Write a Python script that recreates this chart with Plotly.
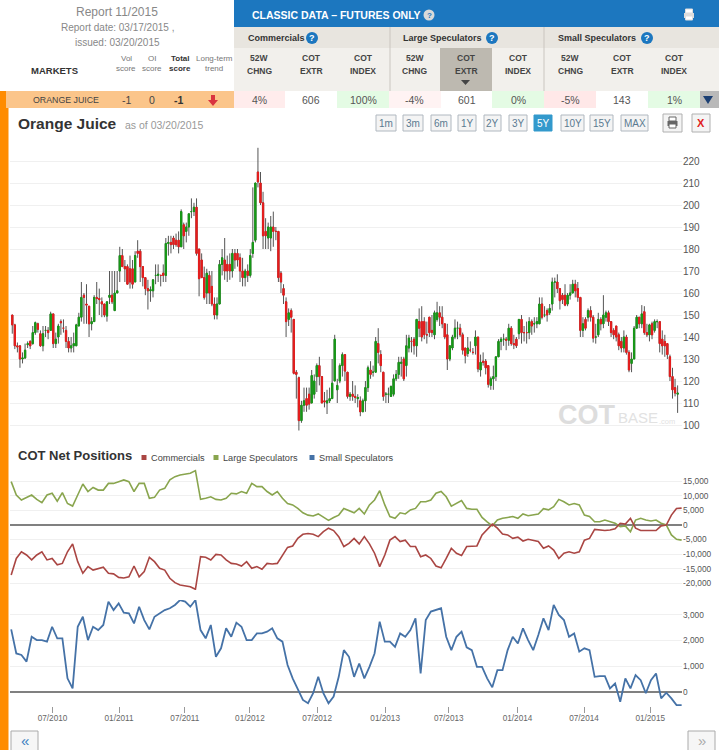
import pandas as pd
import plotly.graph_objects as go

opens = [150,145.5,136,136,130,130.5,136.5,138,137,142,
 146,141.5,136,143,143,143,150.5,137,140,147,
 144,143,138,135,136,136,145,149,159,155,
 154,146,147,158,157.5,156,155,149.5,158,159,
 152,160,170,177,172,172,171,171,165,179,
 179,172,167,162,161,161,168,168,168,169,
 168,182.5,183,185,184,184,181,191,188,190,
 197,197,199,180,175,167,160,168,163,155,
 150,155,173,175,173,173,170,178,178,176,
 170,167,170,168,178,184,215,210,201,188,
 185,185,190,188,188,169,162,156,148,152,
 148,124,121.5,102,109,112,114,110,114,122,
 127,122,111,110,111,112,120,116,120,127,
 132,124,113,114,113,112,111,106,111,117,
 125,124,124,137,132,124,114,114,113,114,
 121,123,128,130,127,135,138,139,136,147,
 147,147,141,149,143,141,148,151,149,146,
 141,130,135,140,144,144,141,135,132.5,134,
 133,136,140,125,129,129,127,118,121,122,
 131,138,139,139,138.5,144,137,139,141.5,148,
 142,142,142,147,146,146,146,155,150,152,
 151,155,165,165,162,159,159,155,159,160,
 164,162,158,143,148,149,152,149,140,141,
 148,146,149,151,147,143,145,141,138,135,
 140,133,128,130,144,149,146,151.5,142,141,
 146,143,147,147,139,138,137,131,122,117,114]
highs = [150,146,137.5,136,133,137,138,138.5,145,147,
 146.5,143,145,145,144.5,151.5,150.5,142,146,148,
 148,145,140,140,142,146,151,165,160,164,
 154,149,159,165,162,158,155,156,170,170,
 170,170,181,180,175,173,177,175,179,184,
 180,172,167,166,163,166,173,173,168,173,
 185,186,186,186,187,188,198,192,192,196,
 203,201,203,180,178,172,171,170,170,158,
 158,175,180,185,177,178,180,180,180,178,
 176,171,173,180,208,210,226,215,206,194,
 192,195,197,190,188,170,164,158,153,153,
 148,125,122,111,117,117,117,125,123,128,
 131,122,115,116,117,130,141,121,128,133,
 132,124,115,120,118,114,113,112,120,127,
 129,127,140,144,134,124,115,117,118,123,
 125,131,131,131,141,141,140,140,148,153,
 154,149,147,149,150,152,156,154,154,146,
 146,136,141,148,147,146,142,135,140,138,
 135,143,140,132,133,130,127,122,127,131,
 139,140,141.5,140,146,145,141,140,148,150,
 145,147,149,148,149,149,158,158,154,153,
 155,167,167,168.5,162,160,164,160,164,166,
 166,165,158,149,149,153,154,150,146,151,
 149,159,152,152,147,144,145,142,140,143,
 141,134,133,145,150,149,154.5,154,146,146,
 147,148,148,147,143,141,137,132,126,121,118]
lows = [141.5,134.5,133,126,128,130,135,134.5,136.5,141,
 142,135.5,133.5,140,139,143,135,135,137,141,
 142,135,133,133,133,136,145,147,146,146,
 140,143,147,155,150,149,149,147,155,155,
 152,160,165,172,165,164,162,162,165,176,
 165,163,159,152.5,156,158,164,165,163,165,
 165,177,178,180,181,178,181,180,183,186,
 194,195,177,158.5,167,157,155,155,154,148,
 148,155,168,166,165,166,167,171,172,165,
 163,163,165,167,176,183,208,200,180,180,
 180,179,181,184,165,160,155,140,145,142,
 123,112,97.5,101,106,106,107,110,112,115,
 118,110,108,105,110,112,120,110,119,122,
 120,112,111,111,110,108,104,106,106,115,
 121,122,124,128,124,111,110,110,113,113,
 120,121,122,120,122,133,133,132,131,140,
 138,139,137,140,140,139,147,145,144,139,
 125,129,134,139,139,140,132,128,131,133,
 132,132,124,122,127,123,117,116,116,120,
 131,134,136,134,136,136,134.5,135,139,137,
 138,137,139,141,142,144,146,148,149,147,
 150,152,158,160,152.5,155,154,154,157,160,
 158,156,140,140,143,147,147,137.5,137,140,
 143,144,147,145,140,139,138,134,133,133,
 132,124,124,130,144,144,144,141,140,138,
 139,142,144,133,132,131,130,120,112,113,105.5]
closes = [145.5,136,135.5,130,130.5,134,137,136,142,146.5,
 143.5,136,141.5,143,142,150.5,137,139,145,146.5,
 144,138,135,136,137,145.5,149,158,158,154.5,
 146,147,158,157.5,157,155,150,156,159,156,
 160,161,177,172,171,164,165,164,177,178,
 172,167,162,161,161.5,166,168,168.5,168,168,
 182.5,183,182,182,182,181,197,186,190,196,
 197,199,178,166.5,167,158,169,160,155,150,
 155,173,176,170,170,170,178,175,175,170,
 167,170,168,177,183,210,210.5,201,186,186,
 190,190,188,188,167,165,159,147,151,149,
 123.5,123,102,109,111,109,109.5,122.5,120,127,
 122,110,110.5,111,112,119,139,118,127,132,
 124.5,113,114,113,112.5,112.5,106,111,117,126,
 123,124,138,133,127,113,114,114,117.5,121,
 123,128.5,128.5,121,136,139.5,138,136,148,144,
 140,141,141,142,142,151,151,149,146,140,
 130,136,140,144,144,141,134,131.5,135,134,
 133,140,125.5,128.5,128.5,126,118.5,121,122,131,
 138,139,139,138.5,144,137,136.5,136,148,142,
 142,142,147,145,146,147,155,149,150,150,
 153,165,165,162,156.5,157,154.5,159,160,164,
 161,158,143,146,144,152,149,139.5,140,148,
 146,150,151,147,142,141,140,136,135,140,
 133,125,130,144,149,146,150.5,142,141,145.5,
 141,147,147,137,136,136,132,122,116,114.5,114.5]

large_specs = [14900,10300,8600,9500,10300,8800,7700,10300,10900,8200,
 11100,7400,6500,10300,14100,11500,12900,12000,12000,14300,
 14300,14900,15500,14900,11500,14300,14300,9200,9500,12000,
 12600,15500,16600,17200,17400,17800,18700,8800,9200,9700,
 8800,8600,9200,10900,10700,11500,10900,14300,13200,13200,
 11500,10300,11500,9200,7400,6900,5700,4200,3400,3100,
 3800,2600,1600,2600,3400,5700,4900,4200,5700,3800,
 6900,8600,11800,6900,2900,2300,4200,3800,5200,5700,
 8000,8000,8600,10900,11500,9700,6500,7400,8400,5700,
 5400,5400,2600,1100,-300,1700,2300,2600,2900,2300,
 3800,3200,3400,3800,5600,5200,6300,8800,8000,6900,
 7400,6900,3400,2900,1100,1100,1700,1100,600,-600,
 -300,-2300,1700,2300,1700,1400,1700,600,0,-3400,-4900,-5200]
commercials = [-17200,-11500,-9200,-10300,-12000,-10300,-9200,-12000,-11500,-13700,
 -13200,-9200,-6500,-12600,-16600,-14300,-15500,-14900,-14500,-16600,
 -16800,-18000,-18200,-17800,-14100,-17800,-16000,-11100,-12600,-14900,
 -15500,-18300,-19800,-20600,-20800,-21200,-22100,-10900,-11100,-12000,
 -10100,-10300,-12000,-13200,-13400,-14100,-12600,-14900,-14300,-15200,
 -13200,-13400,-13200,-10300,-7700,-7200,-4600,-3200,-2900,-3200,
 -4000,-2300,-1100,-1900,-4000,-7400,-6300,-4600,-6500,-4000,
 -6500,-9700,-14300,-10300,-5200,-4000,-5700,-5200,-7400,-7400,
 -10900,-10300,-11500,-14100,-14700,-11500,-8000,-9700,-10500,-7400,
 -7200,-7200,-3400,-1700,300,-1100,-3100,-3400,-4600,-4200,
 -5500,-4900,-5200,-5700,-8000,-7200,-8600,-11500,-9700,-9200,
 -9700,-9200,-5200,-4600,-1500,-1700,-1900,-1700,-1300,600,
 300,2300,-1100,-1900,-1900,-1700,-1900,-300,0,3400,5700,5800]
small_specs = [2430,1490,1430,1170,2140,2010,2010,1950,2530,2080,
 2080,520,130,2530,2920,2010,2530,2400,2600,3510,
 3180,3440,3080,3050,2660,3310,2790,2430,2920,3050,
 3180,3250,3380,3570,3510,3310,3570,2400,2080,2600,
 1360,1690,2470,2140,2690,2530,2010,2010,2270,2270,
 2340,2470,2080,1950,1040,520,130,-320,-450,-60,
 580,-60,-450,-190,580,1620,1360,580,1100,520,
 970,1490,2730,1950,1950,1750,2270,2140,2400,2860,
 710,2790,3120,3180,3250,2140,1620,2140,2340,1730,
 1620,970,970,520,170,840,840,1620,2140,1880,
 2470,2010,1620,2210,2860,2400,3380,2990,2790,2140,
 2270,1560,1690,1620,580,610,610,130,320,-390,
 520,130,650,450,-60,450,710,-260,-40,-260,-520,-520]

date_labels = ["07/2010","01/2011","07/2011","01/2012","07/2012","01/2013","07/2013","01/2014","07/2014","01/2015"]
date_ticks = ["2010-07-11","2011-01-09","2011-07-08","2012-01-02","2012-07-04","2013-01-06","2013-06-29","2014-01-03","2014-07-04","2015-01-01"]
price_ticks = [100,110,120,130,140,150,160,170,180,190,200,210,220]
net_ticks = [-20000,-15000,-10000,-5000,0,5000,10000,15000]
net_labels = ["-20,000","-15,000","-10,000","-5,000","0","5,000","10,000","15,000"]
small_ticks = [0,1000,2000,3000]
small_labels = ["0","1,000","2,000","3,000"]

candle_dates = pd.date_range("2010-03-23", periods=len(closes), freq="7D")
cot_dates = pd.date_range("2010-03-20", periods=len(small_specs), freq="14D")
body_high = [max(a, b) for a, b in zip(opens, closes)]
body_low = [min(a, b) for a, b in zip(opens, closes)]

W, H = 719, 750
FONT = "Liberation Sans"
def fx(x): return x / W
def fy(y): return 1 - y / H

fig = go.Figure()
fig.add_trace(go.Candlestick(x=candle_dates, open=opens, high=highs, low=lows, close=closes, yaxis="y", whiskerwidth=0,
    increasing=dict(line=dict(color="#555555", width=1), fillcolor="#555555"),
    decreasing=dict(line=dict(color="#555555", width=1), fillcolor="#555555"), showlegend=False, name="Orange Juice"))
fig.add_trace(go.Candlestick(x=candle_dates, open=opens, high=body_high, low=body_low, close=closes, yaxis="y", whiskerwidth=0,
    increasing=dict(line=dict(color="#169a16", width=1), fillcolor="#169a16"),
    decreasing=dict(line=dict(color="#e81c1c", width=1), fillcolor="#e81c1c"), showlegend=False, name="Body"))
fig.add_trace(go.Scatter(x=cot_dates, y=large_specs, yaxis="y2", mode="lines", line=dict(color="#89a54e", width=1.6), name="Large Speculators", showlegend=False))
fig.add_trace(go.Scatter(x=cot_dates, y=commercials, yaxis="y2", mode="lines", line=dict(color="#aa4643", width=1.6), name="Commercials", showlegend=False))
fig.add_trace(go.Scatter(x=cot_dates, y=small_specs, yaxis="y3", mode="lines", line=dict(color="#4572a7", width=1.8), name="Small Speculators", showlegend=False))

shapes, annots = [], []
def rect(x0, y0, x1, y1, fill, line=None, lw=1):
    shapes.append(dict(type="rect", xref="paper", yref="paper", x0=fx(x0), x1=fx(x1), y0=fy(y0), y1=fy(y1),
                       fillcolor=fill, line=dict(color=line or fill, width=lw if line else 0), layer="below"))
def poly(pts, fill):
    path = "M " + " L ".join(f"{fx(a):.5f},{fy(b):.5f}" for a, b in pts) + " Z"
    shapes.append(dict(type="path", xref="paper", yref="paper", path=path, fillcolor=fill, line=dict(width=0), layer="above"))
def text(x, y, s, size=10, color="#555555", bold=False, anchor="center", family=FONT):
    if bold: s = f"<b>{s}</b>"
    annots.append(dict(xref="paper", yref="paper", x=fx(x), y=fy(y), text=s, showarrow=False, xanchor=anchor, yanchor="middle",
                       font=dict(size=size, color=color, family=family), borderpad=0, align="center"))
def circle(cx, cy, r, fill):
    shapes.append(dict(type="circle", xref="paper", yref="paper", x0=fx(cx - r), x1=fx(cx + r), y0=fy(cy - r), y1=fy(cy + r),
                       fillcolor=fill, line=dict(width=0), layer="below"))
def printer(cx, cy, col="#666666"):
    rect(cx - 3.5, cy - 6, cx + 3.5, cy - 2, "#ffffff", col, 1)
    rect(cx - 5, cy - 2, cx + 5, cy + 3, col)
    rect(cx - 3.5, cy + 1, cx + 3.5, cy + 5, "#ffffff", col, 1)

rect(0, 108, 8.5, 750, "#ff8c00")
rect(0, 91, 6, 108, "#ff8c00")
rect(6, 91, 234, 108, "#fbc58a")
rect(234, 0, 719, 27, "#1c77bf")
rect(234, 27, 719, 48, "#e8e5df")
rect(234, 48, 719, 91, "#f2f0ec")
rect(440, 48, 492, 91, "#bdb9b0")
for xs in (389.5, 543.5):
    rect(xs, 27, xs + 1, 91, "#c9c6c0")
text(117, 12, "Report 11/2015", 12, "#888888")
text(117, 28, "Report date: 03/17/2015 ,", 10, "#888888")
text(117, 42, "issued: 03/20/2015", 10, "#888888")
text(55, 70, "MARKETS", 9.5, "#333333", True)
text(126, 58, "Vol", 8, "#777777"); text(126, 68, "score", 8, "#777777")
text(152, 58, "OI", 8, "#777777"); text(152, 68, "score", 8, "#777777")
text(180, 58, "Total", 8, "#333333", True); text(180, 68, "score", 8, "#333333", True)
text(214, 58, "Long-term", 8, "#777777"); text(214, 68, "trend", 8, "#777777")
text(251, 15, "CLASSIC DATA – FUTURES ONLY", 10.5, "#ffffff", True, "left")
circle(429, 15, 5.5, "#d9d9d9"); text(429, 15, "?", 8, "#1c77bf", True)
printer(689, 15, "#dddddd")
for x, s, qx in ((247, "Commercials", 312), (402, "Large Speculators", 492), (557, "Small Speculators", 647)):
    text(x, 38, s, 9, "#333333", True, "left")
    circle(qx, 38, 6, "#1c77bf"); text(qx, 38, "?", 9, "#ffffff", True)
col_x = [259, 311, 363, 415, 466, 518, 570, 622, 674]
col_top = ["52W", "COT", "COT"] * 3
col_bot = ["CHNG", "EXTR", "INDEX"] * 3
for x, a, b in zip(col_x, col_top, col_bot):
    text(x, 58, a, 8.5, "#444444", True); text(x, 71, b, 8.5, "#444444", True)
poly([(461, 80), (470, 80), (465.5, 85)], "#444444")
cell_edges = [234, 285, 337, 389, 441, 492, 544, 596, 648, 700]
cell_fill = ["#ffecec", "#ffffff", "#e4fbe4", "#fff3f3", "#ffffff", "#e4fbe4", "#ffe8e8", "#ffffff", "#e4fbe4"]
cell_text = ["4%", "606", "100%", "-4%", "601", "0%", "-5%", "143", "1%"]
for i in range(9):
    rect(cell_edges[i], 91, cell_edges[i + 1], 108, cell_fill[i])
    text((cell_edges[i] + cell_edges[i + 1]) / 2, 100, cell_text[i], 10.5, "#555555")
rect(700, 91, 719, 108, "#b9b9b9")
poly([(703, 96), (713, 96), (708, 104)], "#1b3f73")
text(32, 100, "ORANGE JUICE", 8.8, "#444444", False, "left")
text(126, 100, "-1", 10.5, "#444444"); text(152, 100, "0", 10.5, "#444444"); text(178, 100, "-1", 10.5, "#333333", True)
poly([(211, 95), (215, 95), (215, 100), (218, 100), (213, 106), (208, 100), (211, 100)], "#d9333f")
text(17, 123, "Orange Juice", 15.5, "#333333", True, "left")
text(124, 125, "as of 03/20/2015", 10.5, "#999999", False, "left")
btns = [("1m",376,396),("3m",403,423),("6m",431,451),("1Y",458,476),("2Y",484,501),("3Y",509,527),("5Y",534,552),("10Y",561,584),("15Y",590,613),("MAX",621,648)]
for s, a, b in btns:
    on = s == "5Y"
    rect(a, 115, b, 131, "#3399cc" if on else "#f4f4f4", "#3399cc" if on else "#b0b8c0", 1)
    text((a + b) / 2, 123, s, 10, "#ffffff" if on else "#5a7a90")
rect(663, 114, 682, 132, "#f4f4f4", "#b0b0b0", 1); printer(672.5, 123)
rect(692, 114, 710, 132, "#f4f4f4", "#b0b0b0", 1); text(701, 123, "X", 11, "#e02020", True)
text(557, 415, "COT", 27, "#dddddd", True, "left")
text(617, 417, "BASE", 15, "#e2e2e2", False, "left")
text(658, 421, ".com", 7.5, "#e2e2e2", False, "left")
text(17, 455, "COT Net Positions", 13, "#333333", True, "left")
for x, col, s in ((144, "#aa4643", "Commercials"), (216, "#89a54e", "Large Speculators"), (312, "#4572a7", "Small Speculators")):
    rect(x - 2.5, 455, x + 2.5, 460, col)
    text(x + 6, 458, s, 9.2, "#444444", False, "left")
rect(11, 731, 38, 751, "#f6f6f6", "#aaaaaa", 1); text(24.5, 740, "«", 15, "#3a7fc1")
rect(688, 731, 715, 751, "#f6f6f6", "#aaaaaa", 1); text(701.5, 740, "»", 15, "#aaaaaa")

xrange = ["2010-03-16 18:00", "2015-03-29"]
def y_axis(size):
    return dict(side="right", showgrid=True, gridcolor="#f0f0f0", gridwidth=1, showline=False, ticks="", tickfont=dict(size=size, color="#555555", family=FONT), anchor="x", fixedrange=True, tickmode="array")
fig.update_layout(
    width=W, height=H, autosize=False, margin=dict(l=0, r=0, t=0, b=0), paper_bgcolor="#ffffff", plot_bgcolor="rgba(0,0,0,0)",
    showlegend=False, boxmode="overlay", shapes=shapes, annotations=annots,
    xaxis=dict(domain=[fx(10), fx(682)], type="date", range=xrange, anchor="y3", rangeslider=dict(visible=False), showgrid=False, showline=False, zeroline=False,
               tickmode="array", tickvals=date_ticks, ticktext=date_labels, ticks="outside", ticklen=6, tickcolor="#999999", ticklabelstandoff=-2, tickfont=dict(size=8.2, color="#666666", family=FONT)),
    yaxis=dict(domain=[fy(440), fy(135)], range=[100 + (425 - 440) / 2.2, 100 + (425 - 135) / 2.2], tickvals=price_ticks, ticktext=[str(v) for v in price_ticks], zeroline=False, **y_axis(10)),
    yaxis2=dict(domain=[fy(590), fy(465)], range=[(525 - 590) / 0.00291, (525 - 465) / 0.00291], tickvals=net_ticks, ticktext=net_labels, zeroline=True, zerolinecolor="#808080", zerolinewidth=2, **y_axis(8.3)),
    yaxis3=dict(domain=[fy(706), fy(600)], range=[(691.7 - 706) / 0.02567, (691.7 - 600) / 0.02567], tickvals=small_ticks, ticktext=small_labels, zeroline=True, zerolinecolor="#808080", zerolinewidth=2, **y_axis(8.3)),
)
fig.write_html("out.html", config=dict(displayModeBar=False), post_script="document.body.style.margin='0';document.body.style.overflow='hidden';")
